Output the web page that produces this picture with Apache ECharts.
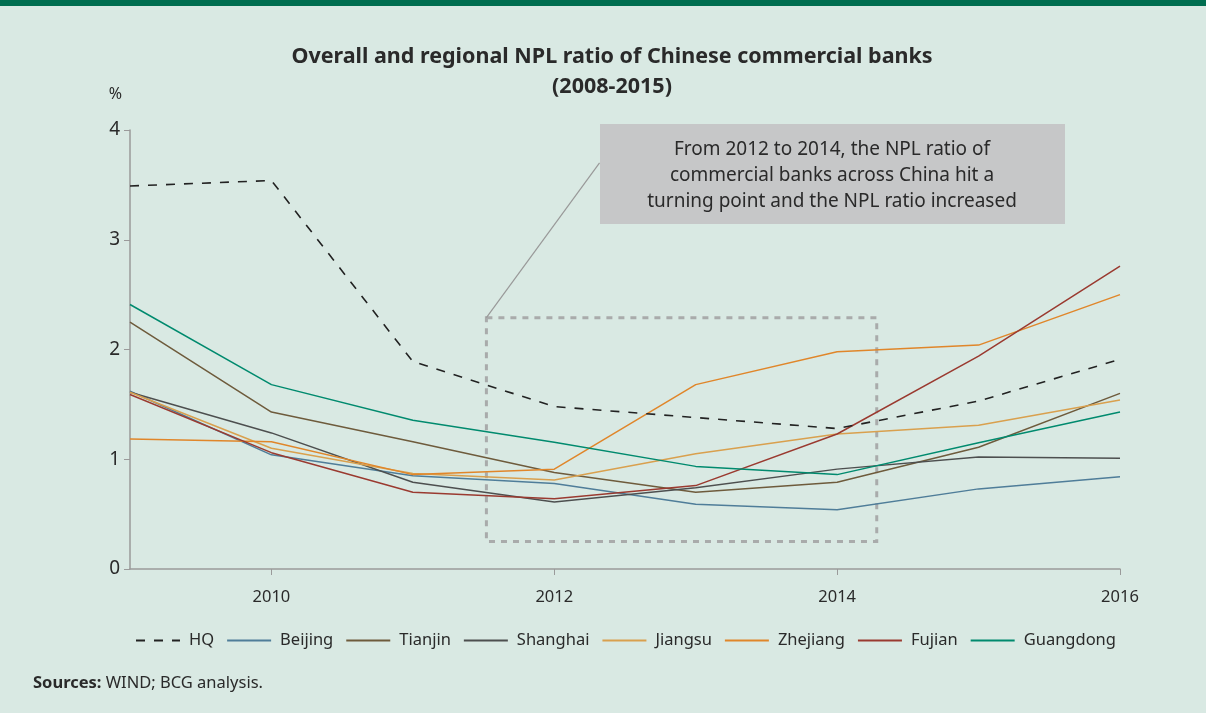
<!DOCTYPE html>
<html><head><meta charset="utf-8">
<script src="https://cdn.jsdelivr.net/npm/echarts@6/dist/echarts.min.js"></script>
<style>html,body{margin:0;padding:0;background:#d9e9e3}#c{width:1206px;height:713px}</style>
</head><body><div id="c"></div>
<script>
const years = [2009, 2010, 2011, 2012, 2013, 2014, 2015, 2016];
const xTicks = [2010, 2012, 2014, 2016];
const yTicks = [0, 1, 2, 3, 4];
const seriesNames = ['HQ','Beijing','Tianjin','Shanghai','Jiangsu','Zhejiang','Fujian','Guangdong'];
const HQ        = [3.49, 3.54, 1.89, 1.48, 1.38, 1.28, 1.53, 1.91];
const Beijing   = [1.62, 1.04, 0.85, 0.78, 0.59, 0.54, 0.73, 0.84];
const Tianjin   = [2.25, 1.43, 1.16, 0.88, 0.70, 0.79, 1.11, 1.60];
const Shanghai  = [1.61, 1.24, 0.79, 0.61, 0.74, 0.91, 1.02, 1.01];
const Jiangsu   = [1.61, 1.10, 0.87, 0.81, 1.05, 1.23, 1.31, 1.54];
const Zhejiang  = [1.185, 1.16, 0.86, 0.91, 1.68, 1.98, 2.04, 2.50];
const Fujian    = [1.59, 1.06, 0.70, 0.64, 0.76, 1.23, 1.94, 2.76];
const Guangdong = [2.41, 1.68, 1.355, 1.155, 0.935, 0.86, 1.15, 1.43];
const highlightBox = [[2011.52, 2.29], [2014.28, 0.25]];
const leaderEnd = [2012.32, 3.70];
const titleText = 'Overall and regional NPL ratio of Chinese commercial banks';
const subtitleText = '(2008-2015)';
const annotation = 'From 2012 to 2014, the NPL ratio of\ncommercial banks across China hit a\nturning point and the NPL ratio increased';

const colors = {HQ:'#222222',Beijing:'#4f7d99',Tianjin:'#6e5b3c',Shanghai:'#4d4f4f',Jiangsu:'#d9a04e',Zhejiang:'#e0862a',Fujian:'#9a3a30',Guangdong:'#008a6e'};
const dataMap = {HQ,Beijing,Tianjin,Shanghai,Jiangsu,Zhejiang,Fujian,Guangdong};
const FONT = '"Noto Sans", "Open Sans", sans-serif';

const series = seriesNames.map((n,i)=>{
  const s = {
    name:n, type:'line', symbol:'none',
    data: years.map((y,j)=>[y, dataMap[n][j]]),
    lineStyle:{color:colors[n], width: n==='HQ'?1.6:1.5, type: n==='HQ'?[9,9]:'solid'},
    itemStyle:{color:colors[n]},
    z: n==='HQ'?3:2,
    animation:false
  };
  if(i===0){
    s.markArea = {silent:true, itemStyle:{color:'rgba(0,0,0,0)', borderColor:'#a9abab', borderWidth:3, borderType:[6,6]},
      data:[[{coord:highlightBox[0]},{coord:highlightBox[1]}]]};
    s.markLine = {silent:true, symbol:['none','none'], label:{show:false},
      lineStyle:{color:'#999', width:1.2, type:'solid'},
      data:[[{coord:[highlightBox[0][0], highlightBox[0][1]]},{coord:leaderEnd}]]};
  }
  return s;
});

const chart = echarts.init(document.getElementById('c'));
chart.setOption({
  backgroundColor:'#d9e9e3',
  textStyle:{fontFamily:FONT},
  grid:{left:130, right:86, top:130, bottom:144},
  xAxis:{type:'value', min:2009, max:2016, interval:1,
    axisLine:{lineStyle:{color:'#9a9a9a', width:1.5}},
    axisTick:{show:true, customValues:xTicks, length:6, inside:false, lineStyle:{color:'#9a9a9a'}},
    axisLabel:{customValues:xTicks, color:'#2a2a2a', fontSize:16.5, margin:20, fontFamily:FONT, formatter:v=>String(v)},
    splitLine:{show:false}},
  yAxis:{type:'value', min:0, max:4, interval:1, name:'%', nameLocation:'end', nameGap:28,
    nameTextStyle:{color:'#2a2a2a', fontSize:16, align:'right', padding:[0,8,0,0]},
    axisLine:{show:true, lineStyle:{color:'#9a9a9a', width:1.5}},
    axisTick:{show:true, length:6, lineStyle:{color:'#9a9a9a'}},
    axisLabel:{color:'#2a2a2a', fontSize:19, margin:10, customValues:yTicks},
    splitLine:{show:false}},
  legend:{data:seriesNames, left:130, top:627, itemWidth:44, itemHeight:12, itemGap:12,
    itemStyle:{opacity:0},
    textStyle:{fontSize:16.5, color:'#2a2a2a', fontFamily:FONT, padding:[0,0,0,4]}, selectedMode:false},
  series,
  graphic:[
    {type:'rect', x:0, y:0, shape:{width:1206, height:6}, style:{fill:'#006e50'}},
    {type:'text', x:612, y:57, style:{text:titleText, align:'center', verticalAlign:'middle', fill:'#2a2a2a', font:'bold 21.5px '+FONT}},
    {type:'text', x:612, y:87, style:{text:subtitleText, align:'center', verticalAlign:'middle', fill:'#2a2a2a', font:'bold 21.5px '+FONT}},
    {type:'rect', x:600, y:124, shape:{width:465, height:100}, style:{fill:'#c6c7c8'}, z:10},
    {type:'text', x:832, y:176, style:{text:annotation, align:'center', verticalAlign:'middle', lineHeight:26, fill:'#2a2a2a', font:'19px '+FONT}, z:11},
    {type:'text', x:33, y:683, style:{text:'{b|Sources:} WIND; BCG analysis.', verticalAlign:'middle', rich:{b:{fontWeight:'bold', fontSize:16.5, fill:'#2a2a2a', fontFamily:FONT}}, fontSize:16.5, fill:'#2a2a2a', fontFamily:FONT}}
  ]
});
</script></body></html>
